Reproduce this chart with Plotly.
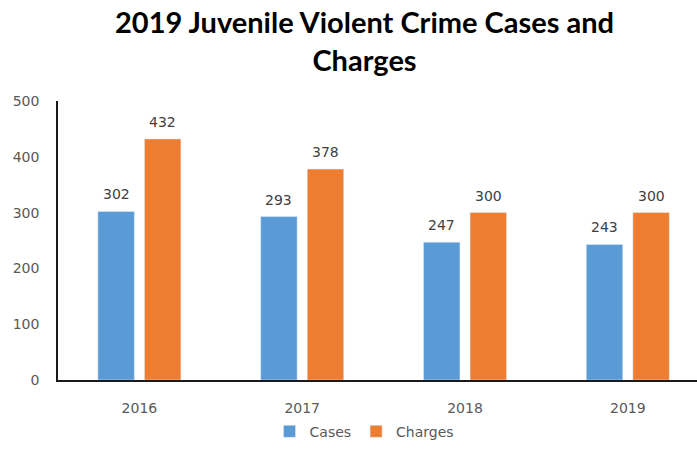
import plotly.graph_objects as go

years = ["2016", "2017", "2018", "2019"]
cases = [302, 293, 247, 243]
charges = [432, 378, 300, 300]

BLUE = "#5B9BD5"
ORANGE = "#ED7D31"
TICK_FONT = dict(family="DejaVu Sans", size=14, color="#595959")
LABEL_FONT = dict(family="DejaVu Sans", size=14, color="#404040")

BAR_W = 0.224
OFFSETS = {"Cases": -0.255, "Charges": 0.031}

fig = go.Figure()
fig.add_trace(go.Bar(name="Cases", x=years, y=cases, marker_color=BLUE,
                     width=BAR_W, offset=OFFSETS["Cases"]))
fig.add_trace(go.Bar(name="Charges", x=years, y=charges, marker_color=ORANGE,
                     width=BAR_W, offset=OFFSETS["Charges"]))

# value labels above each bar
annotations = []
for name, vals in (("Cases", cases), ("Charges", charges)):
    center = OFFSETS[name] + BAR_W / 2
    for i, v in enumerate(vals):
        annotations.append(dict(x=i + center, y=v, xref="x", yref="y",
                                text=str(v), showarrow=False,
                                yanchor="bottom", yshift=7, font=LABEL_FONT))

# two-line chart title
annotations.append(dict(
    text="2019 Juvenile Violent Crime Cases and<br>Charges",
    x=0.48, xref="paper", xanchor="center",
    y=1.355, yref="paper", yanchor="top", showarrow=False,
    font=dict(family="Lato", size=29, color="#000000", weight="bold"),
))

fig.update_layout(
    width=697, height=450,
    margin=dict(l=58, r=0, t=101, b=70),
    paper_bgcolor="white", plot_bgcolor="white",
    barmode="group",
    xaxis=dict(type="category", range=[-0.5, 3.425], showline=True,
               linecolor="#1a1a1a", linewidth=1.5, ticks="", showgrid=False,
               tickfont=TICK_FONT, ticklabelstandoff=14),
    yaxis=dict(range=[0, 500], dtick=100, showline=True, linecolor="#1a1a1a",
               linewidth=1.5, showgrid=False, zeroline=False, ticks="",
               tickfont=TICK_FONT, ticklabelstandoff=14),
    legend=dict(orientation="h", xref="container", x=0.523, xanchor="center",
                yref="container", y=0.005, yanchor="bottom",
                font=TICK_FONT, itemwidth=30),
    annotations=annotations,
    showlegend=True,
)

fig.write_html("out.html")
